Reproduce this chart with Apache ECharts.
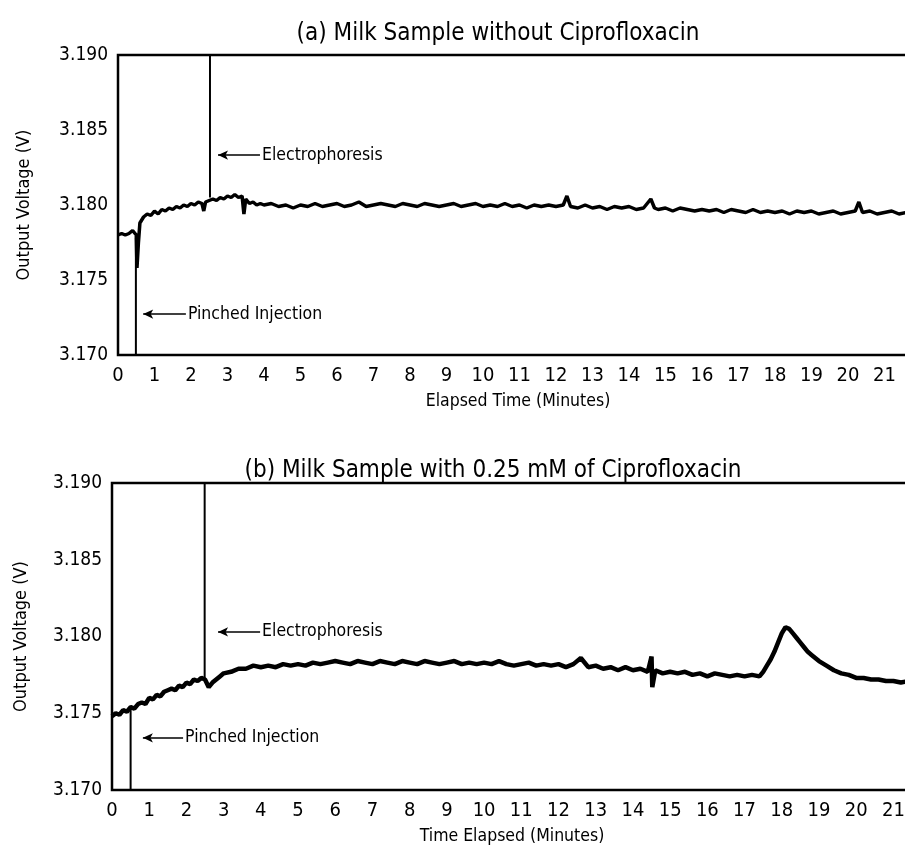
<!DOCTYPE html>
<html>
<head>
<meta charset="utf-8">
<script src="https://cdn.jsdelivr.net/npm/echarts@6/dist/echarts.min.js"></script>
<style>html,body{margin:0;padding:0;background:#fff;overflow:hidden}#c{width:905px;height:848px}</style>
</head>
<body>
<div id="c"></div>
<script>
// ---------- data ----------
var titleA = '(a) Milk Sample without Ciprofloxacin';
var titleB = '(b) Milk Sample with 0.25 mM of Ciprofloxacin';
var xNameA = 'Elapsed Time (Minutes)';
var xNameB = 'Time Elapsed (Minutes)';
var yName = 'Output Voltage (V)';
var yTicks = [3.170, 3.175, 3.180, 3.185, 3.190];

// Panel (a): time (min) and output voltage (V)
var timeA = [0.0,0.1,0.2,0.3,0.4,0.45,0.5,0.52,0.56,0.6,0.7,0.8,0.9,1.0,1.1,1.2,1.3,1.4,1.5,1.6,1.7,1.8,1.9,2.0,2.1,2.2,2.3,2.35,2.4,2.5,2.6,2.7,2.8,2.9,3.0,3.1,3.2,3.3,3.4,3.45,3.5,3.6,3.7,3.8,3.9,
 4.0,4.2,4.4,4.6,4.8,5.0,5.2,5.4,5.6,5.8,6.0,6.2,6.4,6.6,6.8,7.0,7.2,7.4,7.6,7.8,8.0,8.2,8.4,8.6,8.8,9.0,9.2,9.4,9.6,9.8,
 10.0,10.2,10.4,10.6,10.8,11.0,11.2,11.4,11.6,11.8,12.0,12.2,12.3,12.4,12.6,12.8,13.0,13.2,13.4,13.6,13.8,14.0,14.2,14.4,14.6,14.7,14.8,
 15.0,15.2,15.4,15.6,15.8,16.0,16.2,16.4,16.6,16.8,17.0,17.2,17.4,17.6,17.8,18.0,18.2,18.4,18.6,18.8,19.0,19.2,19.4,19.6,19.8,
 20.0,20.2,20.3,20.4,20.6,20.8,21.0,21.2,21.4,21.6,21.8];
var voltA = [3.1780,3.1781,3.1780,3.1781,3.1783,3.1782,3.1780,3.1758,3.1775,3.1788,3.1792,3.1794,3.1793,3.1796,3.1794,3.1797,3.1796,3.1798,3.1797,3.1799,3.1798,3.1800,3.1799,3.1801,3.1800,3.1802,3.1801,3.1796,3.1802,3.1803,3.1804,3.1803,3.1805,3.1804,3.1806,3.1805,3.1807,3.1805,3.1806,3.1794,3.1804,3.1801,3.1802,3.1800,3.1801,
 3.1800,3.1801,3.1799,3.1800,3.1798,3.1800,3.1799,3.1801,3.1799,3.1800,3.1801,3.1799,3.1800,3.1802,3.1799,3.1800,3.1801,3.1800,3.1799,3.1801,3.1800,3.1799,3.1801,3.1800,3.1799,3.1800,3.1801,3.1799,3.1800,3.1801,
 3.1799,3.1800,3.1799,3.1801,3.1799,3.1800,3.1798,3.1800,3.1799,3.1800,3.1799,3.1800,3.1806,3.1799,3.1798,3.1800,3.1798,3.1799,3.1797,3.1799,3.1798,3.1799,3.1797,3.1798,3.1804,3.1798,3.1797,
 3.1798,3.1796,3.1798,3.1797,3.1796,3.1797,3.1796,3.1797,3.1795,3.1797,3.1796,3.1795,3.1797,3.1795,3.1796,3.1795,3.1796,3.1794,3.1796,3.1795,3.1796,3.1794,3.1795,3.1796,3.1794,
 3.1795,3.1796,3.1802,3.1795,3.1796,3.1794,3.1795,3.1796,3.1794,3.1795,3.1794];

// Panel (b)
var timeB = [0.0,0.1,0.2,0.3,0.4,0.5,0.6,0.7,0.8,0.9,1.0,1.1,1.2,1.3,1.4,1.5,1.6,1.7,1.8,1.9,2.0,2.1,2.2,2.3,2.4,2.5,2.6,2.7,2.8,2.9,
 3.0,3.2,3.4,3.6,3.8,4.0,4.2,4.4,4.6,4.8,5.0,5.2,5.4,5.6,5.8,6.0,6.2,6.4,6.6,6.8,7.0,7.2,7.4,7.6,7.8,8.0,8.2,8.4,8.6,8.8,
 9.0,9.2,9.4,9.6,9.8,10.0,10.2,10.4,10.6,10.8,11.0,11.2,11.4,11.6,11.8,12.0,12.2,12.4,12.6,12.8,13.0,13.2,13.4,13.6,13.8,
 14.0,14.2,14.4,14.5,14.52,14.6,14.8,15.0,15.2,15.4,15.6,15.8,16.0,16.2,16.4,16.6,16.8,17.0,17.2,17.4,
 17.5,17.6,17.7,17.8,17.9,18.0,18.1,18.2,18.3,18.4,18.5,18.6,18.7,18.8,18.9,19.0,19.2,19.4,19.6,19.8,
 20.0,20.2,20.4,20.6,20.8,21.0,21.2,21.4,21.6];
var voltB = [3.1748,3.1750,3.1749,3.1752,3.1751,3.1754,3.1753,3.1756,3.1757,3.1756,3.1760,3.1759,3.1762,3.1761,3.1764,3.1765,3.1766,3.1765,3.1768,3.1767,3.1770,3.1769,3.1772,3.1771,3.1773,3.1772,3.1767,3.1770,3.1772,3.1774,
 3.1776,3.1777,3.1779,3.1779,3.1781,3.1780,3.1781,3.1780,3.1782,3.1781,3.1782,3.1781,3.1783,3.1782,3.1783,3.1784,3.1783,3.1782,3.1784,3.1783,3.1782,3.1784,3.1783,3.1782,3.1784,3.1783,3.1782,3.1784,3.1783,3.1782,
 3.1783,3.1784,3.1782,3.1783,3.1782,3.1783,3.1782,3.1784,3.1782,3.1781,3.1782,3.1783,3.1781,3.1782,3.1781,3.1782,3.1780,3.1782,3.1786,3.1780,3.1781,3.1779,3.1780,3.1778,3.1780,
 3.1778,3.1779,3.1777,3.1787,3.1767,3.1778,3.1776,3.1777,3.1776,3.1777,3.1775,3.1776,3.1774,3.1776,3.1775,3.1774,3.1775,3.1774,3.1775,3.1774,
 3.1777,3.1781,3.1785,3.1790,3.1796,3.1802,3.1806,3.1805,3.1802,3.1799,3.1796,3.1793,3.1790,3.1788,3.1786,3.1784,3.1781,3.1778,3.1776,3.1775,
 3.1773,3.1773,3.1772,3.1772,3.1771,3.1771,3.1770,3.1771,3.1770];

// Event marker lines [time, voltage where the line meets the trace]
var injectA = [0.49, 3.1778];
var electroA = [2.52, 3.1805];
var injectB = [0.50, 3.1755];
var electroB = [2.49, 3.1773];

// Arrow annotations [tipTime, tailTime, voltage, text]
var arrowsA = [[2.74, 3.89, 3.18333, 'Electrophoresis'], [0.69, 1.86, 3.17273, 'Pinched Injection']];
var arrowsB = [[2.85, 3.98, 3.1803, 'Electrophoresis'], [0.83, 1.91, 3.1734, 'Pinched Injection']];

// axis extents (minutes) over the frame width
var xMaxA = 21.92, xMaxB = 21.5;
// ---------- chart ----------
var FONT = "'DejaVu Sans Condensed','Liberation Sans',sans-serif";
var yMin = yTicks[0], yMax = yTicks[yTicks.length - 1], yStep = yTicks[1] - yTicks[0];

function zip(t, v) { return t.map(function (x, i) { return [x, v[i]]; }); }

function xAxis(gi, max, name) {
  return {
    type: 'value', gridIndex: gi, min: 0, max: max, interval: 1,
    name: name, nameLocation: 'middle', nameGap: 37,
    nameTextStyle: { fontFamily: FONT, fontSize: 17.5, color: '#000' },
    axisLine: { show: false }, axisTick: { show: false }, splitLine: { show: false },
    axisLabel: { margin: 11, fontFamily: FONT, fontSize: 20, color: '#000',
      formatter: function (v) { return Math.abs(v - Math.round(v)) < 1e-6 ? String(Math.round(v)) : ''; } }
  };
}
function yAxis(gi, gap) {
  return {
    type: 'value', gridIndex: gi, min: yMin, max: yMax, interval: yStep,
    name: yName, nameLocation: 'middle', nameGap: gap, nameRotate: 90,
    nameTextStyle: { fontFamily: FONT, fontSize: 18, color: '#000' },
    axisLine: { show: false }, axisTick: { show: false }, splitLine: { show: false },
    axisLabel: { margin: 10, fontFamily: FONT, fontSize: 19, color: '#000',
      formatter: function (v) { return v.toFixed(3); } }
  };
}
function eventSeries(gi, ev, top) {
  return {
    type: 'line', xAxisIndex: gi, yAxisIndex: gi, symbol: 'none', silent: true, animation: false,
    lineStyle: { color: '#000', width: 2 },
    data: [[ev[0], top ? yMax : yMin], [ev[0], ev[1]]]
  };
}
function arrowSeries(gi, arrows) {
  return {
    type: 'line', xAxisIndex: gi, yAxisIndex: gi, data: [], silent: true, animation: false,
    markLine: {
      silent: true, animation: false, symbol: ['arrow', 'none'], symbolSize: 10,
      lineStyle: { color: '#000', width: 1.5, type: 'solid' },
      itemStyle: { color: '#000' },
      label: { show: true, position: 'end', distance: 2, formatter: '{b}',
        fontFamily: FONT, fontSize: 17.5, color: '#000' },
      emphasis: { disabled: true },
      data: arrows.map(function (a) {
        return [{ name: a[3], coord: [a[0], a[2]], symbol: 'arrow', symbolSize: [7, 10] },
                { coord: [a[1], a[2]], symbol: 'none' }];
      })
    }
  };
}

var chart = echarts.init(document.getElementById('c'), null, { renderer: 'canvas' });
chart.setOption({
  animation: false,
  backgroundColor: '#fff',
  title: [
    { text: titleA, left: 493, top: 17, textAlign: 'center',
      textStyle: { fontFamily: FONT, fontSize: 24, fontWeight: 'normal', color: '#000' } },
    { text: titleB, left: 488, top: 454, textAlign: 'center',
      textStyle: { fontFamily: FONT, fontSize: 24, fontWeight: 'normal', color: '#000' } }
  ],
  grid: [
    { left: 118, top: 55, width: 800, height: 300, show: true, borderColor: '#000', borderWidth: 2.5,
      backgroundColor: 'transparent', outerBoundsMode: 'none', containLabel: false },
    { left: 112, top: 483, width: 800, height: 307, show: true, borderColor: '#000', borderWidth: 2.5,
      backgroundColor: 'transparent', outerBoundsMode: 'none', containLabel: false }
  ],
  xAxis: [xAxis(0, xMaxA, xNameA), xAxis(1, xMaxB, xNameB)],
  yAxis: [yAxis(0, 85), yAxis(1, 82)],
  series: [
    { type: 'line', xAxisIndex: 0, yAxisIndex: 0, symbol: 'none', silent: true, animation: false,
      lineStyle: { color: '#000', width: 3.5 }, data: zip(timeA, voltA) },
    { type: 'line', xAxisIndex: 1, yAxisIndex: 1, symbol: 'none', silent: true, animation: false,
      lineStyle: { color: '#000', width: 4.5 }, data: zip(timeB, voltB) },
    eventSeries(0, injectA, false), eventSeries(0, electroA, true),
    eventSeries(1, injectB, false), eventSeries(1, electroB, true),
    arrowSeries(0, arrowsA), arrowSeries(1, arrowsB)
  ]
});
</script>
</body>
</html>
